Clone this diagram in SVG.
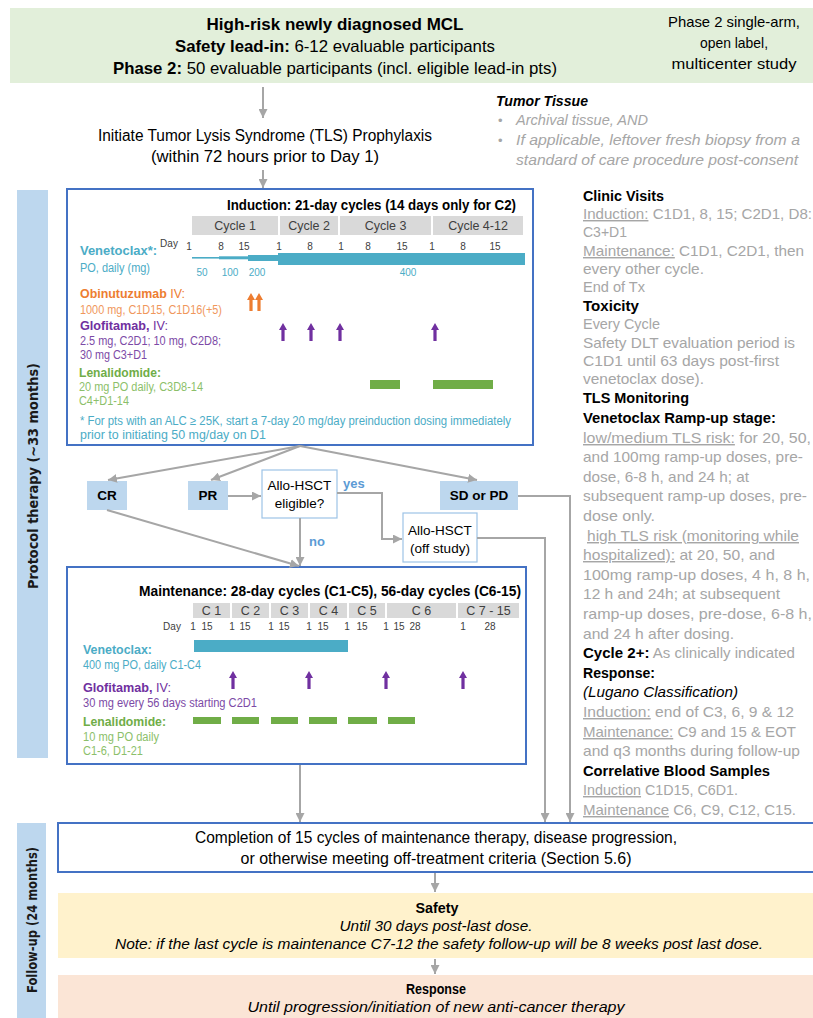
<svg xmlns="http://www.w3.org/2000/svg" xmlns:xlink="http://www.w3.org/1999/xlink" width="813" height="1018" viewBox="0 0 813 1018">
<defs>
<style>
text{font-family:"Liberation Sans",Arial,sans-serif;fill:#000}
.b{font-weight:bold}
.i{font-style:italic}
.u{text-decoration:underline}
.g{fill:#a6a6a6}
.rc{font-size:14.5px}
.conn{fill:none;stroke:#a6a6a6;stroke-width:2}
.hdr{fill:#d9d9d9}
.hdrt{font-size:12.5px;fill:#404040;text-anchor:middle}
.day{font-size:10px;fill:#404040;text-anchor:middle}
.ven{fill:#4bacc6}
.obi{fill:#ed7d31}
.obid{fill:#f0975c}
.glo{fill:#7030a0}
.glod{fill:#7c4aa6}
.len{fill:#70ad47}
.lend{fill:#8cbf6a}
.lbl{font-size:12.5px}
.desc{font-size:12px}
.resp{fill:#bdd7ee}
.rt{font-size:13.5px;font-weight:bold;text-anchor:middle}
.mid{text-anchor:middle}
.side{font-family:"DejaVu Sans",sans-serif;font-weight:bold;font-size:14px;text-anchor:middle;fill:#1a1a1a}
.frame{fill:#fff;stroke:#4472c4;stroke-width:2}
.yn{fill:#5b9bd5;font-weight:bold;font-size:13px}
</style>
<marker id="ah" markerWidth="9" markerHeight="9" refX="9" refY="4.5" orient="auto" markerUnits="userSpaceOnUse">
<path d="M0,0 L9,4.5 L0,9 Z" fill="#a6a6a6"/>
</marker>
<path id="blk" d="M0,0 L4,7 L1.6,7 L1.6,18 L-1.6,18 L-1.6,7 L-4,7 Z"/>
</defs>

<rect width="813" height="1018" fill="#fff"/>

<!-- Header -->
<g id="header">
<rect x="10" y="8" width="803" height="75" fill="#e2efda"/>
<text x="335" y="30" class="mid b" font-size="16.5" textLength="257" lengthAdjust="spacingAndGlyphs">High-risk newly diagnosed MCL</text>
<text x="335" y="52" class="mid" font-size="16.5" textLength="320" lengthAdjust="spacingAndGlyphs"><tspan class="b">Safety lead-in:</tspan> 6-12 evaluable participants</text>
<text x="335" y="74" class="mid" font-size="16.5" textLength="444" lengthAdjust="spacingAndGlyphs"><tspan class="b">Phase 2:</tspan> 50 evaluable participants (incl. eligible lead-in pts)</text>
<text x="734" y="27" class="mid" font-size="15" textLength="132" lengthAdjust="spacingAndGlyphs">Phase 2 single-arm,</text>
<text x="734" y="48" class="mid" font-size="15" textLength="68" lengthAdjust="spacingAndGlyphs">open label,</text>
<text x="734" y="69" class="mid" font-size="15" textLength="125" lengthAdjust="spacingAndGlyphs">multicenter study</text>
</g>

<g id="tls">
<text x="265" y="141" class="mid" font-size="16" textLength="334" lengthAdjust="spacingAndGlyphs">Initiate Tumor Lysis Syndrome (TLS) Prophylaxis</text>
<text x="265" y="162" class="mid" font-size="16" textLength="228" lengthAdjust="spacingAndGlyphs">(within 72 hours prior to Day 1)</text>
</g>

<g id="tumor-tissue">
<text x="496" y="106" class="b i" font-size="15" textLength="92" lengthAdjust="spacingAndGlyphs">Tumor Tissue</text>
<text x="498" y="125" class="g" font-size="13">•</text>
<text x="516" y="125" class="g i" font-size="14.5" textLength="132" lengthAdjust="spacingAndGlyphs">Archival tissue, AND</text>
<text x="498" y="145" class="g" font-size="13">•</text>
<text x="516" y="145" class="g i" font-size="14.5" textLength="284" lengthAdjust="spacingAndGlyphs">If applicable, leftover fresh biopsy from a</text>
<text x="516" y="165" class="g i" font-size="14.5" textLength="282" lengthAdjust="spacingAndGlyphs">standard of care procedure post-consent</text>
</g>

<!-- Side bands -->
<g id="band-protocol">
<rect x="17" y="190" width="31" height="568" fill="#bdd7ee"/>
<text class="side" transform="translate(38,476) rotate(-90)" textLength="226" lengthAdjust="spacingAndGlyphs">Protocol therapy (~33 months)</text>
</g>
<g id="band-followup">
<rect x="17" y="823" width="29" height="195" fill="#bdd7ee"/>
<text class="side" transform="translate(37,920) rotate(-90)" textLength="146" lengthAdjust="spacingAndGlyphs">Follow-up (24 months)</text>
</g>

<!-- Induction -->
<g id="induction">
<rect x="67" y="189" width="466" height="256" class="frame"/>
<text x="516" y="210" class="b" font-size="15" text-anchor="end" textLength="289" lengthAdjust="spacingAndGlyphs">Induction: 21-day cycles (14 days only for C2)</text>
<rect x="192" y="216" width="86" height="19" class="hdr"/>
<rect x="280" y="216" width="58" height="19" class="hdr"/>
<rect x="340" y="216" width="91" height="19" class="hdr"/>
<rect x="433" y="216" width="90" height="19" class="hdr"/>
<text x="235" y="230" class="hdrt">Cycle 1</text>
<text x="309" y="230" class="hdrt">Cycle 2</text>
<text x="385.5" y="230" class="hdrt">Cycle 3</text>
<text x="478" y="230" class="hdrt">Cycle 4-12</text>
<text x="169" y="247" class="day">Day</text>
<text x="189" y="250" class="day">1</text>
<text x="221" y="250" class="day">8</text>
<text x="244" y="250" class="day">15</text>
<text x="279" y="250" class="day">1</text>
<text x="310" y="250" class="day">8</text>
<text x="341" y="250" class="day">1</text>
<text x="368" y="250" class="day">8</text>
<text x="402" y="250" class="day">15</text>
<text x="432" y="250" class="day">1</text>
<text x="463" y="250" class="day">8</text>
<text x="495" y="250" class="day">15</text>
<rect x="192" y="257" width="27" height="1.6" class="ven"/>
<rect x="219" y="256.3" width="29" height="3" class="ven"/>
<rect x="248" y="255" width="31" height="6" class="ven"/>
<rect x="278" y="253" width="247" height="12" class="ven"/>
<text x="202" y="276" class="day ven">50</text>
<text x="230" y="276" class="day ven">100</text>
<text x="257" y="276" class="day ven">200</text>
<text x="408" y="276" class="day ven">400</text>
<text x="80" y="255" class="lbl b ven" textLength="77" lengthAdjust="spacingAndGlyphs">Venetoclax*:</text>
<text x="80" y="272" class="desc ven" textLength="70" lengthAdjust="spacingAndGlyphs">PO, daily (mg)</text>
<text x="80" y="298" class="lbl obi" textLength="105" lengthAdjust="spacingAndGlyphs"><tspan class="b">Obinutuzumab</tspan> IV:</text>
<text x="80" y="314" class="desc obid" textLength="142" lengthAdjust="spacingAndGlyphs">1000 mg, C1D15, C1D16(+5)</text>
<text x="80" y="330" class="lbl glo" textLength="88" lengthAdjust="spacingAndGlyphs"><tspan class="b">Glofitamab,</tspan> IV:</text>
<text x="80" y="345" class="desc glod" textLength="141" lengthAdjust="spacingAndGlyphs">2.5 mg, C2D1; 10 mg, C2D8;</text>
<text x="80" y="359" class="desc glod" textLength="67" lengthAdjust="spacingAndGlyphs">30 mg C3+D1</text>
<text x="79" y="377" class="lbl b len" textLength="82" lengthAdjust="spacingAndGlyphs">Lenalidomide:</text>
<text x="79" y="391" class="desc lend" textLength="124" lengthAdjust="spacingAndGlyphs">20 mg PO daily, C3D8-14</text>
<text x="79" y="405" class="desc lend" textLength="50" lengthAdjust="spacingAndGlyphs">C4+D1-14</text>
<use xlink:href="#blk" href="#blk" x="251" y="293" class="obi"/>
<use xlink:href="#blk" href="#blk" x="259" y="293" class="obi"/>
<use xlink:href="#blk" href="#blk" x="283" y="323" class="glo"/>
<use xlink:href="#blk" href="#blk" x="311" y="323" class="glo"/>
<use xlink:href="#blk" href="#blk" x="340" y="323" class="glo"/>
<use xlink:href="#blk" href="#blk" x="435" y="323" class="glo"/>
<rect x="370" y="380" width="30" height="9" class="len"/>
<rect x="433" y="380" width="60" height="9" class="len"/>
<text x="80" y="425" class="ven" font-size="12.5" textLength="431" lengthAdjust="spacingAndGlyphs">* For pts with an ALC ≥ 25K, start a 7-day 20 mg/day preinduction dosing immediately</text>
<text x="80" y="439" class="ven" font-size="12.5" textLength="186" lengthAdjust="spacingAndGlyphs">prior to initiating  50 mg/day on D1</text>
</g>

<!-- Response nodes -->
<g id="cr"><rect x="87" y="481" width="40" height="29" class="resp"/><text x="107" y="500" class="rt">CR</text></g>
<g id="pr"><rect x="188" y="481" width="40" height="29" class="resp"/><text x="208" y="500" class="rt">PR</text></g>
<g id="sdpd"><rect x="440" y="481" width="78" height="29" class="resp"/><text x="479" y="500" class="rt">SD or PD</text></g>
<g id="eligible">
<rect x="262" y="470" width="75" height="48" fill="#fff" stroke="#9dc3e6" stroke-width="1.2"/>
<text x="299.5" y="490" class="mid" font-size="13.5">Allo-HSCT</text>
<text x="299.5" y="508" class="mid" font-size="13.5">eligible?</text>
</g>
<text x="343" y="488" class="yn">yes</text>
<text x="309" y="546" class="yn">no</text>
<g id="offstudy">
<rect x="403" y="513" width="74" height="49" fill="#fff" stroke="#9dc3e6" stroke-width="1.2"/>
<text x="440" y="535" class="mid" font-size="13.5">Allo-HSCT</text>
<text x="440" y="553" class="mid" font-size="13.5">(off study)</text>
</g>

<!-- Maintenance -->
<g id="maintenance">
<rect x="67" y="567" width="459" height="197" class="frame"/>
<text x="521" y="596" class="b" font-size="15" text-anchor="end" textLength="382" lengthAdjust="spacingAndGlyphs">Maintenance: 28-day cycles (C1-C5), 56-day cycles (C6-15)</text>
<rect x="193" y="603" width="37" height="15" class="hdr"/>
<rect x="232" y="603" width="37" height="15" class="hdr"/>
<rect x="271" y="603" width="37" height="15" class="hdr"/>
<rect x="310" y="603" width="37" height="15" class="hdr"/>
<rect x="349" y="603" width="36" height="15" class="hdr"/>
<rect x="387" y="603" width="69" height="15" class="hdr"/>
<rect x="458" y="603" width="61" height="15" class="hdr"/>
<text x="211.5" y="615" class="hdrt">C 1</text>
<text x="250.5" y="615" class="hdrt">C 2</text>
<text x="289.5" y="615" class="hdrt">C 3</text>
<text x="328.5" y="615" class="hdrt">C 4</text>
<text x="367" y="615" class="hdrt">C 5</text>
<text x="421.5" y="615" class="hdrt">C 6</text>
<text x="488.5" y="615" class="hdrt">C 7 - 15</text>
<text x="172" y="630" class="day">Day</text>
<text x="193" y="630" class="day">1</text>
<text x="207" y="630" class="day">15</text>
<text x="232" y="630" class="day">1</text>
<text x="245" y="630" class="day">15</text>
<text x="271" y="630" class="day">1</text>
<text x="284" y="630" class="day">15</text>
<text x="309" y="630" class="day">1</text>
<text x="323" y="630" class="day">15</text>
<text x="347" y="630" class="day">1</text>
<text x="362" y="630" class="day">15</text>
<text x="386" y="630" class="day">1</text>
<text x="399" y="630" class="day">15</text>
<text x="415" y="630" class="day">28</text>
<text x="463" y="630" class="day">1</text>
<text x="490" y="630" class="day">28</text>
<rect x="194" y="640" width="154" height="12" class="ven"/>
<use xlink:href="#blk" href="#blk" x="233" y="671" class="glo"/>
<use xlink:href="#blk" href="#blk" x="309" y="671" class="glo"/>
<use xlink:href="#blk" href="#blk" x="386" y="671" class="glo"/>
<use xlink:href="#blk" href="#blk" x="463" y="671" class="glo"/>
<rect x="193" y="717" width="28" height="7" class="len"/>
<rect x="232" y="717" width="27" height="7" class="len"/>
<rect x="271" y="717" width="27" height="7" class="len"/>
<rect x="309" y="717" width="28" height="7" class="len"/>
<rect x="348" y="717" width="29" height="7" class="len"/>
<rect x="388" y="717" width="27" height="7" class="len"/>
<text x="83" y="654" class="lbl b ven" textLength="69" lengthAdjust="spacingAndGlyphs">Venetoclax:</text>
<text x="83" y="669" class="desc ven" textLength="118" lengthAdjust="spacingAndGlyphs">400 mg PO, daily C1-C4</text>
<text x="83" y="692" class="lbl glo" textLength="88" lengthAdjust="spacingAndGlyphs"><tspan class="b">Glofitamab,</tspan> IV:</text>
<text x="83" y="707" class="desc glod" textLength="174" lengthAdjust="spacingAndGlyphs">30 mg every 56 days starting C2D1</text>
<text x="83" y="726" class="lbl b len" textLength="83" lengthAdjust="spacingAndGlyphs">Lenalidomide:</text>
<text x="83" y="741" class="desc lend" textLength="76" lengthAdjust="spacingAndGlyphs">10 mg PO daily</text>
<text x="83" y="755" class="desc lend" textLength="60" lengthAdjust="spacingAndGlyphs">C1-6, D1-21</text>
</g>

<!-- Assessments column -->
<g id="assessments" class="rc">
<text x="583" y="201" class="rc b" textLength="81" lengthAdjust="spacingAndGlyphs">Clinic Visits</text>
<text x="583" y="219" class="rc g" textLength="229" lengthAdjust="spacingAndGlyphs"><tspan class="u">Induction:</tspan> C1D1, 8, 15; C2D1, D8:</text>
<text x="583" y="237" class="rc g" textLength="44" lengthAdjust="spacingAndGlyphs">C3+D1</text>
<text x="583" y="256" class="rc g" textLength="221" lengthAdjust="spacingAndGlyphs"><tspan class="u">Maintenance:</tspan> C1D1, C2D1, then</text>
<text x="583" y="274" class="rc g" textLength="121" lengthAdjust="spacingAndGlyphs">every other cycle.</text>
<text x="583" y="292" class="rc g" textLength="62" lengthAdjust="spacingAndGlyphs">End of Tx</text>
<text x="583" y="311" class="rc b" textLength="56" lengthAdjust="spacingAndGlyphs">Toxicity</text>
<text x="583" y="329" class="rc g" textLength="77" lengthAdjust="spacingAndGlyphs">Every Cycle</text>
<text x="583" y="348" class="rc g" textLength="212" lengthAdjust="spacingAndGlyphs">Safety DLT evaluation period is</text>
<text x="583" y="366" class="rc g" textLength="196" lengthAdjust="spacingAndGlyphs">C1D1 until 63 days post-first</text>
<text x="583" y="384" class="rc g" textLength="121" lengthAdjust="spacingAndGlyphs">venetoclax dose).</text>
<text x="583" y="403" class="rc b" textLength="106" lengthAdjust="spacingAndGlyphs">TLS Monitoring</text>
<text x="583" y="423" class="rc b" textLength="193" lengthAdjust="spacingAndGlyphs">Venetoclax Ramp-up stage:</text>
<text x="583" y="443" class="rc g" textLength="228" lengthAdjust="spacingAndGlyphs"><tspan class="u">low/medium TLS risk:</tspan> for  20, 50,</text>
<text x="583" y="462" class="rc g" textLength="220" lengthAdjust="spacingAndGlyphs">and 100mg ramp-up doses, pre-</text>
<text x="583" y="482" class="rc g" textLength="166" lengthAdjust="spacingAndGlyphs">dose, 6-8 h, and 24 h; at</text>
<text x="583" y="501" class="rc g" textLength="224" lengthAdjust="spacingAndGlyphs">subsequent ramp-up doses, pre-</text>
<text x="583" y="521" class="rc g" textLength="72" lengthAdjust="spacingAndGlyphs">dose only.</text>
<text x="587" y="541" class="rc g u" textLength="212" lengthAdjust="spacingAndGlyphs">high TLS risk (monitoring while</text>
<text x="583" y="560" class="rc g" textLength="192" lengthAdjust="spacingAndGlyphs"><tspan class="u">hospitalized):</tspan> at 20, 50, and</text>
<text x="583" y="580" class="rc g" textLength="227" lengthAdjust="spacingAndGlyphs">100mg ramp-up doses, 4 h, 8 h,</text>
<text x="583" y="599" class="rc g" textLength="197" lengthAdjust="spacingAndGlyphs">12 h and 24h; at subsequent</text>
<text x="583" y="619" class="rc g" textLength="229" lengthAdjust="spacingAndGlyphs">ramp-up doses, pre-dose, 6-8 h,</text>
<text x="583" y="639" class="rc g" textLength="151" lengthAdjust="spacingAndGlyphs">and 24 h after dosing.</text>
<text x="583" y="658" class="rc g" textLength="212" lengthAdjust="spacingAndGlyphs"><tspan class="b" fill="#000">Cycle 2+:</tspan> As clinically indicated</text>
<text x="583" y="678" class="rc b" textLength="72" lengthAdjust="spacingAndGlyphs">Response:</text>
<text x="583" y="697" class="rc i" textLength="155" lengthAdjust="spacingAndGlyphs">(Lugano Classification)</text>
<text x="583" y="717" class="rc g" textLength="211" lengthAdjust="spacingAndGlyphs"><tspan class="u">Induction:</tspan> end of C3, 6, 9 &amp; 12</text>
<text x="583" y="737" class="rc g" textLength="213" lengthAdjust="spacingAndGlyphs"><tspan class="u">Maintenance:</tspan> C9 and 15 &amp; EOT</text>
<text x="583" y="756" class="rc g" textLength="217" lengthAdjust="spacingAndGlyphs">and q3 months during follow-up</text>
<text x="583" y="776" class="rc b" textLength="187" lengthAdjust="spacingAndGlyphs">Correlative Blood Samples</text>
<text x="583" y="795" class="rc g" textLength="155" lengthAdjust="spacingAndGlyphs"><tspan class="u">Induction</tspan> C1D15, C6D1.</text>
<text x="583" y="815" class="rc g" textLength="213" lengthAdjust="spacingAndGlyphs"><tspan class="u">Maintenance</tspan> C6, C9, C12, C15.</text>
</g>

<!-- Follow-up -->
<g id="completion">
<rect x="58" y="823" width="770" height="49" class="frame"/>
<text x="436" y="843" class="mid" font-size="16" textLength="482" lengthAdjust="spacingAndGlyphs">Completion of 15 cycles of maintenance therapy, disease progression,</text>
<text x="436" y="864" class="mid" font-size="16" textLength="391" lengthAdjust="spacingAndGlyphs">or otherwise meeting off-treatment criteria (Section 5.6)</text>
</g>
<g id="safety">
<rect x="58" y="893" width="760" height="65" fill="#fff2cc"/>
<text x="437" y="913" class="mid b" font-size="15.5" textLength="43" lengthAdjust="spacingAndGlyphs">Safety</text>
<text x="436" y="931" class="mid i" font-size="15.5" textLength="193" lengthAdjust="spacingAndGlyphs">Until 30 days post-last dose.</text>
<text x="439" y="949" class="mid i" font-size="15.5" textLength="648" lengthAdjust="spacingAndGlyphs">Note: if the last cycle is maintenance C7-12 the safety follow-up will be 8 weeks post last dose.</text>
</g>
<g id="response">
<rect x="58" y="975" width="760" height="43" fill="#fbe5d6"/>
<text x="436" y="994" class="mid b" font-size="15.5" textLength="60" lengthAdjust="spacingAndGlyphs">Response</text>
<text x="436" y="1012" class="mid i" font-size="15.5" textLength="377" lengthAdjust="spacingAndGlyphs">Until progression/initiation of new anti-cancer therapy</text>
</g>

<!-- Connectors -->
<g id="connectors" class="conn">
<path d="M263,87 V118" marker-end="url(#ah)"/>
<path d="M263,170 V188" marker-end="url(#ah)"/>
<path d="M300,446 L108,480" marker-end="url(#ah)"/>
<path d="M300,446 L211,480" marker-end="url(#ah)"/>
<path d="M300,446 L477,480" marker-end="url(#ah)"/>
<path d="M228,496 H261" marker-end="url(#ah)"/>
<path d="M337,493 H382 V539 H402" marker-end="url(#ah)"/>
<path d="M300,518 V566" marker-end="url(#ah)"/>
<path d="M107,510 L299,566" marker-end="url(#ah)"/>
<path d="M518,496 H570 V822" marker-end="url(#ah)"/>
<path d="M477,538 H545 V822" marker-end="url(#ah)"/>
<path d="M300,765 V822" marker-end="url(#ah)"/>
<path d="M435,873 V892" marker-end="url(#ah)"/>
<path d="M435,959 V974" marker-end="url(#ah)"/>
</g>
</svg>
